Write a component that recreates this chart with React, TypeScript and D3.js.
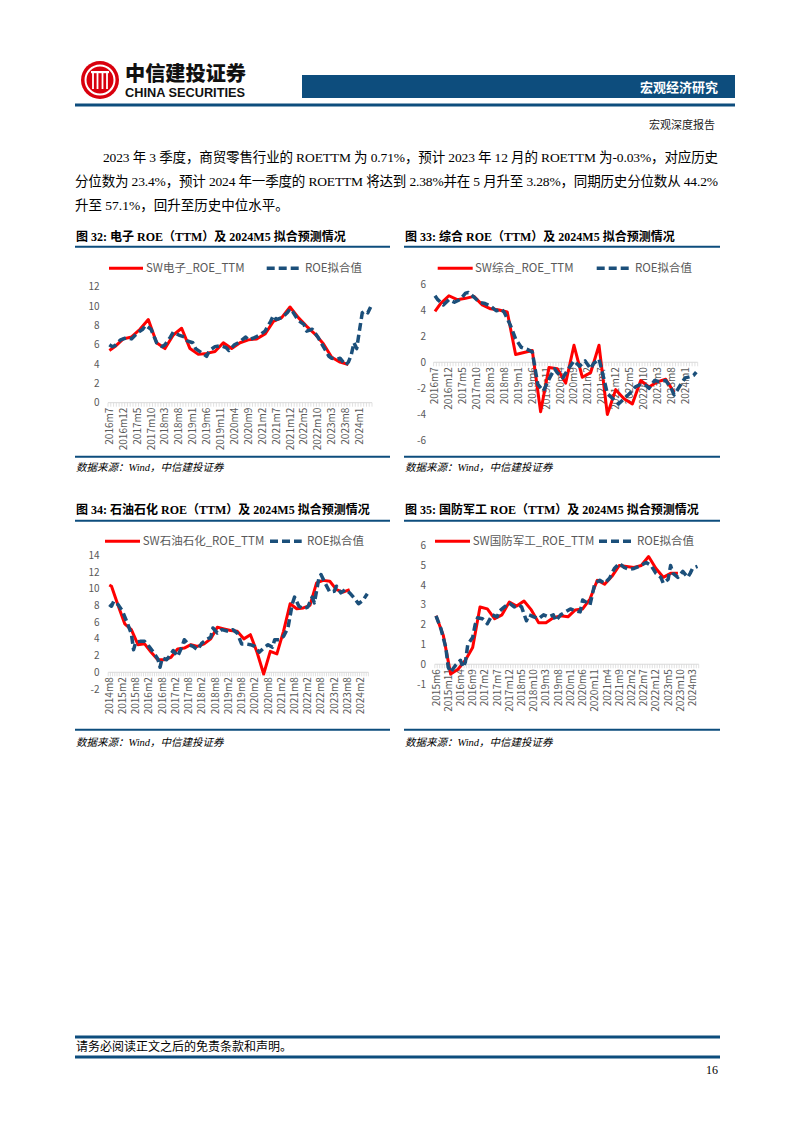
import React from 'react';
import * as d3 from 'd3';

type Pt = [number, number];

// ---------- 图32 电子 ----------
const ELEC_MONTHS = 95; // 2016m7 .. 2024m5
const ELEC_TICKS = ['2016m7','2016m12','2017m5','2017m10','2018m3','2018m8','2019m1','2019m6','2019m11','2020m4','2020m9','2021m2','2021m7','2021m12','2022m5','2022m10','2023m3','2023m8','2024m1'];
const ELEC_ACTUAL: Pt[] = [[0,5.4],[2,5.8],[5,6.6],[8,6.8],[11,7.6],[14,8.6],[17,6.2],[20,5.6],[23,7.0],[26,7.7],[29,5.6],[32,5.0],[35,5.1],[38,5.3],[41,6.2],[44,5.6],[47,6.2],[50,6.5],[53,6.6],[56,7.1],[59,8.4],[62,8.8],[65,9.9],[68,8.8],[71,7.9],[74,7.1],[77,6.1],[80,4.7],[83,4.2],[86,3.95]];
const ELEC_FIT: Pt[] = [[0,6.0],[1,5.8],[2,5.9],[4,6.5],[6,6.7],[8,6.6],[10,7.2],[12,7.6],[13,8.0],[15,7.6],[17,6.2],[19,5.8],[20,6.0],[22,6.8],[23,7.3],[25,7.0],[27,6.8],[28,6.4],[30,6.2],[31,5.6],[33,5.2],[35,4.8],[36,5.4],[38,5.8],[40,5.9],[42,5.7],[43,5.4],[45,6.0],[47,6.3],[49,6.8],[50,6.5],[52,6.7],[54,7.0],[56,7.4],[58,8.4],[59,9.0],[60,8.6],[62,8.8],[64,9.3],[65,9.7],[66,9.4],[68,8.5],[70,8.1],[71,7.4],[73,7.6],[74,7.2],[75,6.8],[77,5.8],[79,4.8],[80,4.6],[82,4.5],[83,4.6],[85,3.9],[86,4.2],[87,4.9],[88,6.2],[89,5.6],[90,7.5],[91,9.3],[92,9.5],[93,9.3],[94,9.9]];
const ELEC_Y_TICKS = [0, 2, 4, 6, 8, 10, 12];

// ---------- 图33 综合 ----------
const COMP_MONTHS = 95; // 2016m7 .. 2024m5
const COMP_TICKS = ELEC_TICKS;
const COMP_ACTUAL: Pt[] = [[0,3.9],[2,4.5],[5,5.1],[8,4.8],[11,4.9],[14,5.05],[17,4.4],[20,4.1],[23,4.0],[26,3.85],[29,0.6],[32,0.75],[35,0.9],[38,-3.8],[41,-0.4],[44,-0.5],[47,-1.6],[50,1.3],[53,-1.15],[56,-0.8],[59,1.3],[62,-4.0],[65,-2.1],[68,-2.8],[71,-3.2],[74,-1.4],[77,-1.9],[80,-1.5],[83,-1.3],[86,-2.3]];
const COMP_FIT: Pt[] = [[0,5.1],[1,4.8],[3,4.4],[5,4.8],[7,4.6],[9,4.8],[11,5.3],[12,5.35],[14,5.0],[16,4.6],[18,4.5],[20,4.3],[22,3.95],[24,4.05],[25,3.8],[27,2.9],[29,1.8],[31,1.15],[33,1.0],[35,0.8],[36,-0.5],[37,-1.7],[39,-2.2],[41,-1.3],[43,-0.5],[44,-0.8],[46,-1.2],[48,-0.5],[50,0.1],[52,-0.3],[54,0.1],[56,-0.5],[57,-0.1],[59,0.25],[60,-0.6],[61,-1.5],[62,-2.4],[64,-2.8],[66,-3.2],[68,-2.8],[70,-2.4],[72,-1.9],[74,-1.7],[76,-1.8],[77,-2.0],[79,-1.4],[81,-1.5],[83,-1.4],[85,-2.0],[86,-2.5],[87,-2.2],[89,-1.5],[90,-1.2],[92,-1.1],[93,-1.0],[94,-0.75]];
const COMP_Y_TICKS = [-6, -4, -2, 0, 2, 4, 6];

// ---------- 图34 石油石化 ----------
const OIL_MONTHS = 118; // 2014m8 .. 2024m5
const OIL_TICKS = ['2014m8','2015m2','2015m8','2016m2','2016m8','2017m2','2017m8','2018m2','2018m8','2019m2','2019m8','2020m2','2020m8','2021m2','2021m8','2022m2','2022m8','2023m2','2023m8','2024m2'];
const OIL_ACTUAL: Pt[] = [[0,10.45],[1,10.3],[4,8.0],[7,5.8],[10,5.1],[13,3.3],[16,3.4],[19,2.4],[22,1.5],[25,1.5],[28,1.8],[31,2.8],[34,2.9],[37,3.3],[40,3.1],[43,3.4],[46,4.0],[49,5.4],[52,5.2],[55,5.0],[58,4.9],[61,4.0],[64,4.5],[67,2.4],[70,-0.2],[73,2.5],[76,2.2],[79,4.9],[82,8.2],[85,7.6],[88,7.7],[91,8.0],[94,10.7],[97,11.0],[100,10.9],[103,9.9],[106,9.6],[109,9.9]];
const OIL_FIT: Pt[] = [[0,8.1],[1,7.9],[2,8.5],[4,8.1],[6,7.3],[8,6.0],[10,4.6],[11,2.7],[12,3.6],[14,3.7],[16,3.7],[18,3.1],[20,2.4],[22,1.6],[23,0.6],[24,1.7],[26,1.5],[28,2.2],[29,2.6],[31,1.9],[33,3.1],[34,3.9],[36,3.3],[38,3.1],[40,2.7],[42,3.5],[44,3.9],[46,4.2],[47,5.3],[49,4.7],[51,5.1],[54,4.9],[56,5.1],[58,4.7],[60,3.4],[62,3.4],[64,3.3],[66,3.1],[68,2.4],[70,2.9],[72,3.3],[74,3.0],[75,3.9],[77,3.9],[79,4.3],[81,5.3],[83,8.2],[84,9.0],[86,7.9],[88,7.6],[90,7.8],[92,9.0],[93,8.3],[95,11.2],[96,11.7],[98,10.6],[100,9.6],[102,9.7],[103,10.3],[105,9.5],[107,9.9],[109,9.5],[111,8.9],[113,8.2],[115,8.6],[117,9.4]];
const OIL_Y_TICKS = [-2, 0, 2, 4, 6, 8, 10, 12, 14];

// ---------- 图35 国防军工 ----------
const DEF_MONTHS = 108; // 2015m6 .. 2024m5
const DEF_TICKS = ['2015m6','2015m11','2016m4','2016m9','2017m2','2017m7','2017m12','2018m5','2018m10','2019m3','2019m8','2020m1','2020m6','2020m11','2021m4','2021m9','2022m2','2022m7','2022m12','2023m5','2023m10','2024m3'];
const DEF_ACTUAL: Pt[] = [[0,2.45],[3,1.45],[6,-0.5],[9,-0.25],[12,0.2],[15,0.85],[18,2.9],[21,2.8],[24,2.3],[27,2.5],[30,3.15],[33,2.95],[36,3.2],[39,2.75],[42,2.1],[45,2.1],[48,2.35],[51,2.45],[54,2.4],[57,2.75],[60,2.8],[63,3.3],[66,4.25],[69,4.05],[72,4.45],[75,5.0],[78,4.95],[81,4.9],[84,5.0],[87,5.45],[90,4.85],[93,4.4],[96,4.6],[99,4.6]];
const DEF_FIT: Pt[] = [[0,2.45],[2,1.8],[4,0.85],[5,-0.15],[6,-0.4],[8,-0.05],[10,0.2],[11,-0.15],[12,0.1],[13,1.0],[15,1.35],[16,2.0],[17,2.35],[19,2.3],[21,2.05],[23,2.5],[25,2.4],[26,2.7],[28,2.9],[30,3.1],[32,2.9],[34,3.0],[35,2.9],[37,2.2],[38,2.5],[40,2.4],[42,2.3],[44,2.5],[46,2.4],[48,2.5],[49,2.2],[51,2.5],[53,2.65],[55,2.8],[57,2.7],[59,2.65],[60,3.25],[62,3.1],[63,3.0],[65,4.1],[67,4.25],[69,4.1],[71,4.35],[73,4.85],[75,5.1],[77,4.9],[79,4.8],[81,4.85],[83,4.95],[86,5.15],[88,5.0],[90,4.6],[92,4.4],[93,4.1],[95,4.3],[96,5.0],[97,4.6],[99,4.4],[101,4.7],[103,4.4],[104,4.6],[105,4.85],[107,4.95]];
const DEF_Y_TICKS = [-1, 0, 1, 2, 3, 4, 5, 6];

const PARAGRAPH = [
  '2023 年 3 季度，商贸零售行业的 ROETTM 为 0.71%，预计 2023 年 12 月的 ROETTM 为-0.03%，对应历史',
  '分位数为 23.4%，预计 2024 年一季度的 ROETTM 将达到 2.38%并在 5 月升至 3.28%，同期历史分位数从 44.2%',
  '升至 57.1%，回升至历史中位水平。',
];

const BLUE = '#0d4d7d';
const DASH_BLUE = '#1b4f7a';
const RED = '#ff0000';
const GRAY = '#595959';
const CHART_FONT = "'Noto Sans CJK SC', 'Noto Sans', sans-serif";
const SERIF = "'Liberation Serif', 'Noto Sans CJK SC', serif";

type ChartProps = {
  title: string;
  redName: string;
  colLeft: number;
  colRight: number;
  titleY: number;
  titleLineY: number;
  sourceLineY: number;
  sourceY: number;
  left: number;
  right: number;
  yMin: number;
  yMax: number;
  yBottom: number;
  yTop: number;
  yTicks: number[];
  labelRight: number;
  n: number;
  tickLabels: string[];
  tickStep: number;
  actual: Pt[];
  fit: Pt[];
  legendY: number;
  redX: [number, number];
  redTextX: number;
  blueX: [number, number];
  blueTextX: number;
};

function Chart(p: ChartProps) {
  const x = d3.scaleBand<number>().domain(d3.range(p.n)).range([p.left, p.right]).padding(0);
  const bw = x.bandwidth();
  const cx = (i: number) => (x(i) as number) + bw / 2;
  const y = d3.scaleLinear().domain([p.yMin, p.yMax]).range([p.yBottom, p.yTop]);
  const line = d3.line<Pt>().x((d) => cx(d[0])).y((d) => y(d[1]));
  const y0 = y(0);
  const boundaries = d3.range(p.n + 1).map((i) => p.left + i * bw);
  return (
    <g>
      <text x={p.colLeft + 1} y={p.titleY} fontFamily={SERIF} fontWeight="bold" fontSize={12} fill="#000">{p.title}</text>
      <line x1={p.colLeft} x2={p.colRight} y1={p.titleLineY} y2={p.titleLineY} stroke={BLUE} strokeWidth={2} />
      <line x1={p.colLeft} x2={p.colRight} y1={p.sourceLineY} y2={p.sourceLineY} stroke={BLUE} strokeWidth={2} />
      <text x={p.colLeft + 1} y={p.sourceY} fontFamily={SERIF} fontStyle="italic" fontSize={10.5} fill="#000">数据来源：Wind，中信建投证券</text>

      {/* legend */}
      <line x1={p.redX[0]} x2={p.redX[1]} y1={p.legendY} y2={p.legendY} stroke={RED} strokeWidth={3} />
      <text x={p.redTextX} y={p.legendY} dy="0.36em" fontFamily={CHART_FONT} fontSize={11.5} fill={GRAY}>{p.redName}</text>
      <line x1={p.blueX[0]} x2={p.blueX[1]} y1={p.legendY} y2={p.legendY} stroke={DASH_BLUE} strokeWidth={3.5} strokeDasharray="8 4" />
      <text x={p.blueTextX} y={p.legendY} dy="0.36em" fontFamily={CHART_FONT} fontSize={11.5} fill={GRAY}>ROE拟合值</text>

      {/* y labels */}
      {p.yTicks.map((t) => (
        <text key={t} x={p.labelRight} y={y(t)} dy="0.35em" textAnchor="end" fontFamily={CHART_FONT} fontSize={10} fill={GRAY}>{t}</text>
      ))}

      {/* category axis */}
      <line x1={p.left} x2={p.right} y1={y0} y2={y0} stroke="#d9d9d9" strokeWidth={1} />
      {boundaries.map((bx, i) => (
        <line key={i} x1={bx} x2={bx} y1={y0} y2={y0 + 4} stroke="#d9d9d9" strokeWidth={0.8} />
      ))}
      {p.tickLabels.map((lab, k) => (
        <text key={lab} transform={`translate(${cx(k * p.tickStep)},${y0 + 5}) rotate(-90)`} dy="0.35em" textAnchor="end" fontFamily={CHART_FONT} fontSize={10} fill={GRAY}>{lab}</text>
      ))}

      {/* series */}
      <path d={line(p.actual) || ''} fill="none" stroke={RED} strokeWidth={3} strokeLinejoin="round" />
      <path d={line(p.fit) || ''} fill="none" stroke={DASH_BLUE} strokeWidth={3.5} strokeDasharray="8 4" strokeLinejoin="round" />
    </g>
  );
}

function Logo() {
  const cx = 100, cy = 80;
  return (
    <g>
      <circle cx={cx} cy={cy} r={19} fill="#d9000d" />
      <circle cx={cx} cy={cy} r={14.5} fill="none" stroke="#fff" strokeWidth={2} />
      <rect x={cx - 9} y={cy - 9} width={18} height={2.2} fill="#fff" />
      {[-7, -2.5, 2.5, 7].map((dx) => (
        <rect key={dx} x={cx + dx - 0.9} y={cy - 9} width={1.8} height={18} fill="#fff" />
      ))}
      <text x={125} y={81} fontFamily={CHART_FONT} fontWeight={900} fontSize={20} fill="#111" textLength={121} lengthAdjust="spacingAndGlyphs">中信建投证券</text>
      <text x={125} y={96.5} fontFamily="'Liberation Sans', Arial, sans-serif" fontWeight="bold" fontSize={12.5} fill="#111" textLength={120} lengthAdjust="spacingAndGlyphs">CHINA SECURITIES</text>
    </g>
  );
}

export default function App() {
  const row1 = { titleY: 241, titleLineY: 246.7, sourceLineY: 456.7, sourceY: 471 };
  const row2 = { titleY: 514, titleLineY: 520.7, sourceLineY: 729.7, sourceY: 746 };
  return (
    <svg width={794} height={1123} viewBox="0 0 794 1123" style={{ position: 'absolute', left: 0, top: 0, background: '#fff' }}>
      <rect x={0} y={0} width={794} height={1123} fill="#fff" />
      <Logo />
      <rect x={302} y={75} width={433} height={23} fill={BLUE} />
      <text x={718} y={91.5} textAnchor="end" fontFamily={CHART_FONT} fontWeight="bold" fontSize={13} fill="#fff">宏观经济研究</text>
      <line x1={75} x2={735} y1={105} y2={105} stroke={BLUE} strokeWidth={3} />
      <text x={715} y={129} textAnchor="end" fontFamily={SERIF} fontSize={11} fill="#222">宏观深度报告</text>

      <text x={103} y={162} fontFamily={SERIF} fontSize={13.5} fill="#000" textLength={615} lengthAdjust="spacing">{PARAGRAPH[0]}</text>
      <text x={75} y={186} fontFamily={SERIF} fontSize={13.5} fill="#000" textLength={643} lengthAdjust="spacing">{PARAGRAPH[1]}</text>
      <text x={75} y={210} fontFamily={SERIF} fontSize={13.5} fill="#000">{PARAGRAPH[2]}</text>

      <Chart
        title="图 32: 电子 ROE（TTM）及 2024M5 拟合预测情况" redName="SW电子_ROE_TTM"
        colLeft={75} colRight={390} {...row1}
        left={108} right={372} yMin={0} yMax={12} yBottom={402.7} yTop={286.7} yTicks={ELEC_Y_TICKS} labelRight={99.5}
        n={ELEC_MONTHS} tickLabels={ELEC_TICKS} tickStep={5} actual={ELEC_ACTUAL} fit={ELEC_FIT}
        legendY={268.3} redX={[109, 143]} redTextX={146} blueX={[266.7, 300]} blueTextX={305}
      />
      <Chart
        title="图 33: 综合 ROE（TTM）及 2024M5 拟合预测情况" redName="SW综合_ROE_TTM"
        colLeft={404} colRight={720} {...row1}
        left={433.6} right={697.7} yMin={-6} yMax={6} yBottom={440.5} yTop={284} yTicks={COMP_Y_TICKS} labelRight={426}
        n={COMP_MONTHS} tickLabels={COMP_TICKS} tickStep={5} actual={COMP_ACTUAL} fit={COMP_FIT}
        legendY={268.3} redX={[437.7, 472.7]} redTextX={475} blueX={[596.7, 630]} blueTextX={635}
      />
      <Chart
        title="图 34: 石油石化 ROE（TTM）及 2024M5 拟合预测情况" redName="SW石油石化_ROE_TTM"
        colLeft={75} colRight={390} {...row2}
        left={108.2} right={368.4} yMin={-2} yMax={14} yBottom={689} yTop={555.3} yTicks={OIL_Y_TICKS} labelRight={99.5}
        n={OIL_MONTHS} tickLabels={OIL_TICKS} tickStep={6} actual={OIL_ACTUAL} fit={OIL_FIT}
        legendY={541.3} redX={[105, 140]} redTextX={142.7} blueX={[270, 301.7]} blueTextX={307}
      />
      <Chart
        title="图 35: 国防军工 ROE（TTM）及 2024M5 拟合预测情况" redName="SW国防军工_ROE_TTM"
        colLeft={404} colRight={720} {...row2}
        left={434.8} right={698.7} yMin={-1} yMax={6} yBottom={684} yTop={545.7} yTicks={DEF_Y_TICKS} labelRight={426}
        n={DEF_MONTHS} tickLabels={DEF_TICKS} tickStep={5} actual={DEF_ACTUAL} fit={DEF_FIT}
        legendY={541.3} redX={[435, 470]} redTextX={472.7} blueX={[599, 631.7]} blueTextX={637}
      />

      <line x1={75} x2={720} y1={1037} y2={1037} stroke={BLUE} strokeWidth={3} />
      <text x={76} y={1051} fontFamily={SERIF} fontSize={12} fill="#000">请务必阅读正文之后的免责条款和声明。</text>
      <line x1={75} x2={720} y1={1057} y2={1057} stroke={BLUE} strokeWidth={3} />
      <text x={718} y={1074} textAnchor="end" fontFamily={SERIF} fontSize={12} fill="#000">16</text>
    </svg>
  );
}
